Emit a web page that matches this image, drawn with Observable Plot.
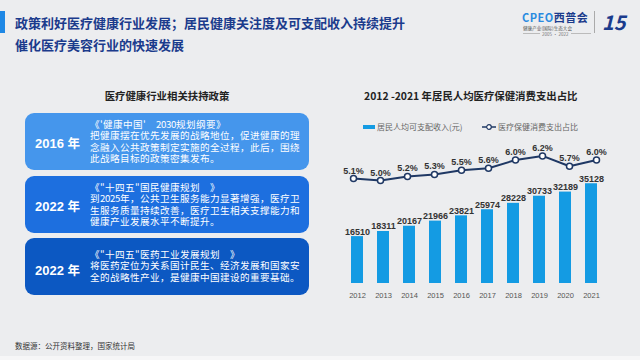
<!DOCTYPE html>
<html><head><meta charset="utf-8">
<script src="https://cdn.jsdelivr.net/npm/d3@7"></script>
<script src="https://cdn.jsdelivr.net/npm/@observablehq/plot@0.6"></script>
<style>
@font-face{font-family:"CJKTight";src:local("Noto Sans CJK SC Regular"),local("NotoSansCJKsc-Regular"),local("Noto Sans CJK SC");ascent-override:86%;descent-override:14%;line-gap-override:0%;font-weight:400;}
html,body{margin:0;padding:0;}
body{width:640px;height:360px;position:relative;overflow:hidden;background:#ecedef;font-family:"Noto Sans CJK SC","Noto Sans",sans-serif;}
.abs{position:absolute;}
.title{left:15px;top:12px;font-size:13px;line-height:22px;font-weight:bold;color:#1b3b8c;white-space:nowrap;}
.accent{left:0;top:11px;width:5px;height:22px;background:#1e88e5;}
.ptitle{left:25px;width:284px;top:88px;text-align:center;font-size:10.4px;font-weight:bold;color:#222;}
.box{left:25px;width:284px;border-radius:9px;color:#fff;}
.box .yr{position:absolute;left:10px;font-size:13px;font-weight:bold;font-family:"Liberation Sans",Arial,sans-serif;white-space:nowrap;}
.box .yr span{font-family:"Noto Sans CJK SC",sans-serif;font-size:12.5px;}
.box .txt{position:absolute;left:65px;font-size:9.6px;line-height:11.4px;white-space:nowrap;font-family:"CJKTight","Noto Sans CJK SC",sans-serif;}
.box .txt div{height:11.4px;}
.ctitle{left:364px;top:88px;font-size:10.4px;font-weight:bold;color:#222;white-space:nowrap;}
.leg{top:121px;font-size:8px;color:#666;white-space:nowrap;display:flex;align-items:center;}
.foot{left:15px;top:340px;font-size:7.5px;color:#333;}
#chart{left:330px;top:130px;width:300px;height:180px;}
#chart svg{position:absolute;left:0;top:0;overflow:visible;}
</style></head>
<body>
<div class="abs accent"></div>
<div class="abs title">政策利好医疗健康行业发展；居民健康关注度及可支配收入持续提升<br>催化医疗美容行业的快速发展</div>

<div class="abs" style="left:522px;top:9px;width:110px;height:36px;">
  <div class="abs" style="left:0;top:0;font-size:11px;font-weight:bold;color:#2a8be0;letter-spacing:0.5px;">CPEO<span style="color:#1b3b8c">西普会</span></div>
  <div class="abs" style="left:1px;top:16px;font-size:4.6px;color:#555;white-space:nowrap;">健康产业(国际)生态大会</div>
  <div class="abs" style="left:1px;top:24px;width:68px;height:1px;background:#bbb;"></div>
  <div class="abs" style="left:18px;top:22px;font-size:4.5px;color:#777;background:#ecedef;padding:0 2px;">2005 · 2022</div>
  <div class="abs" style="left:72px;top:2px;width:1px;height:22px;background:#aaa;"></div>
  <div class="abs" style="left:80px;top:-2px;font-size:20px;font-weight:bold;font-style:italic;color:#1b3b8c;">15</div>
</div>

<div class="abs ptitle">医疗健康行业相关扶持政策</div>

<div class="abs box" style="top:113px;height:57px;background:#4596ec;">
  <div class="yr" style="top:20px;">2016 <span>年</span></div>
  <div class="txt" style="top:6px;"><div>《'健康中国'　2030规划纲要》</div><div>把健康摆在优先发展的战略地位，促进健康的理</div><div>念融入公共政策制定实施的全过程，此后，围绕</div><div>此战略目标的政策密集发布。</div></div>
</div>
<div class="abs box" style="top:176px;height:57px;background:#1d6fdf;">
  <div class="yr" style="top:20px;">2022 <span>年</span></div>
  <div class="txt" style="top:6px;"><div>《"十四五"国民健康规划　》</div><div>到2025年，公共卫生服务能力显著增强，医疗卫</div><div>生服务质量持续改善，医疗卫生相关支撑能力和</div><div>健康产业发展水平不断提升。</div></div>
</div>
<div class="abs box" style="top:238px;height:57px;background:#0c58c2;">
  <div class="yr" style="top:22px;">2022 <span>年</span></div>
  <div class="txt" style="top:11px;"><div>《"十四五"医药工业发展规划　》</div><div>将医药定位为关系国计民生、经济发展和国家安</div><div>全的战略性产业，是健康中国建设的重要基础。</div></div>
</div>

<div class="abs ctitle">2012 -2021 年居民人均医疗保健消费支出占比</div>
<div class="abs leg" style="left:363px;"><span style="display:inline-block;width:12px;height:4px;background:#149be3;margin-right:2px;"></span>居民人均可支配收入(元)</div>
<div class="abs leg" style="left:482px;"><svg width="14" height="8" style="margin-right:2px;"><line x1="0" y1="4" x2="14" y2="4" stroke="#1f3864" stroke-width="1.5"/><circle cx="7" cy="4" r="2.3" fill="#fff" stroke="#1f3864" stroke-width="1.2"/></svg>医疗保健消费支出占比</div>

<div class="abs" id="chart"></div>

<div class="abs foot">数据源：公开资料整理，国家统计局</div>
<div class="abs" style="left:0;top:356px;width:640px;height:4px;background:#f6f6f7;"></div>

<script>
const years = ["2012","2013","2014","2015","2016","2017","2018","2019","2020","2021"];
const income = [16510, 18311, 20167, 21966, 23821, 25974, 28228, 30733, 32189, 35128];
const share = [5.1, 5.0, 5.2, 5.3, 5.5, 5.6, 6.0, 6.2, 5.7, 6.0];

const barData = years.map((y, i) => ({year: y, value: income[i]}));
const lineData = years.map((y, i) => ({year: y, value: share[i]}));

const common = {
  width: 300, height: 180,
  marginLeft: 3, marginRight: 15, marginTop: 11, marginBottom: 27,
  style: {background: "transparent", fontFamily: "'Liberation Sans', Arial, sans-serif", overflow: "visible"}
};
const xScale = {domain: years, padding: 0.55, label: null};

const bars = Plot.plot({
  ...common,
  x: {...xScale, axis: null},
  y: {domain: [0, 50000], axis: null},
  marks: [
    Plot.barY(barData, {x: "year", y: "value", fill: "#149be3"}),
    Plot.text(barData, {x: "year", y: "value", text: d => String(d.value), lineAnchor: "bottom", dy: -2, fontSize: 9, fontWeight: "bold", fill: "#333"}),
    Plot.axisX({tickSize: 0, tickPadding: 9, fontSize: 7.5, color: "#555", label: null})
  ]
});

const line = Plot.plot({
  ...common,
  x: {...xScale, axis: null},
  y: {domain: [0, 6.9], axis: null},
  marks: [
    Plot.lineY(lineData, {x: "year", y: "value", stroke: "#1f3864", strokeWidth: 2}),
    Plot.dot(lineData, {x: "year", y: "value", r: 3, fill: "#fff", stroke: "#1f3864", strokeWidth: 1.5}),
    Plot.text(lineData, {x: "year", y: "value", text: d => d.value.toFixed(1) + "%", lineAnchor: "bottom", dy: -5, fontSize: 9, fontWeight: "bold", fill: "#333"})
  ]
});

const c = document.getElementById("chart");
c.appendChild(bars);
c.appendChild(line);
</script>
</body></html>
